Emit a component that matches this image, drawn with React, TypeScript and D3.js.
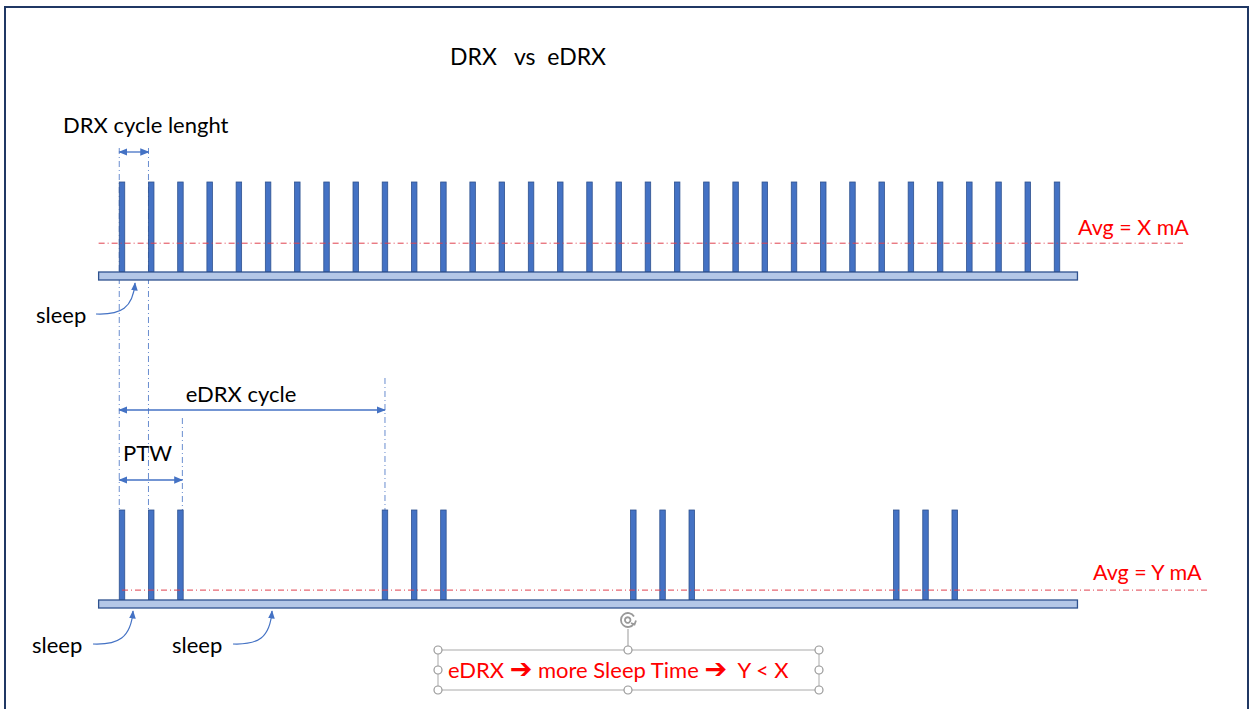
import { useEffect } from "react";
import * as d3 from "d3";

// pulse positions in DRX-cycle units (0 = first paging occasion)
const DRX_PULSES = d3.range(0, 33);
const EDRX_PULSES = [0, 1, 2, 9, 10, 11, 17.5, 18.5, 19.5, 26.5, 27.5, 28.5];
const AXIS_SPAN = [-0.8, 32.7];
const AVG_LEVELS = { drx: 0.32, edrx: 0.11 };
const AVG_LABELS = ["Avg = X mA", "Avg = Y mA"];
const MARKERS = { drxCycle: [0, 1], edrxCycle: [0, 9], ptw: [0, 2.1] };

const BLUE = "#4472c4";
const DARK = "#2f528f";
const RED = "#ff0000";
const FONT = "Lato, 'Open Sans', sans-serif";
const FS = 22;

export default function App() {
  useEffect(() => { document.body.style.margin = "0"; }, []);

  const W = 1253, H = 709;
  const x = d3.scaleLinear().domain([0, 32]).range([122, 1057]);
  const yTop = d3.scaleLinear().domain([0, 1]).range([272, 182]);
  const yBot = d3.scaleLinear().domain([0, 1]).range([600, 510]);
  const pw = 5.5;

  const lineStart = (v: number) => x(v) - pw / 2;

  const pulses = (list: number[], y: d3.ScaleLinear<number, number>) =>
    list.map((p, i) => (
      <rect key={i} x={x(p) - pw / 2} y={y(1)} width={pw} height={y(0) - y(1)}
        fill={BLUE} stroke={DARK} strokeWidth={0.8} />
    ));

  const base = (y: d3.ScaleLinear<number, number>) => (
    <rect x={x(AXIS_SPAN[0])} y={y(0)} width={x(AXIS_SPAN[1]) - x(AXIS_SPAN[0])} height={8}
      fill="#b4c7e7" stroke={DARK} strokeWidth={1.3} />
  );

  const sleepCurve = (x0: number, y0: number, x1: number, y1: number) =>
    `M${x0},${y0} C${x0 + 25},${y0 + 1} ${x1 - 2},${y0 - 6} ${x1},${y1}`;

  const handles: [number, number][] = [
    [438, 650], [628, 650], [819, 650], [438, 670], [819, 670], [438, 690], [628, 690], [819, 690],
  ];

  return (
    <svg width={W} height={H} style={{ display: "block" }} fontFamily={FONT}>
      <defs>
        <marker id="ah" viewBox="0 0 10 10" refX="9" refY="5" markerWidth="7" markerHeight="7" orient="auto-start-reverse">
          <path d="M0,1 L10,5 L0,9 z" fill={BLUE} />
        </marker>
      </defs>
      <rect x={0} y={0} width={W} height={H} fill="white" />
      <rect x={5} y={7} width={1243} height={710} fill="none" stroke="#203864" strokeWidth={2} />

      <text x={528} y={65} textAnchor="middle" fontSize={23} fill="#000" style={{ whiteSpace: "pre" }}>
        DRX   vs  eDRX
      </text>

      {/* dash-dot guides */}
      <g stroke={BLUE} strokeWidth={1} strokeDasharray="6 3 1 3" opacity={0.8}>
        <line x1={lineStart(MARKERS.drxCycle[0])} x2={lineStart(MARKERS.drxCycle[0])} y1={148} y2={yBot(1)} />
        <line x1={lineStart(MARKERS.drxCycle[1])} x2={lineStart(MARKERS.drxCycle[1])} y1={148} y2={yBot(1)} />
        <line x1={x(MARKERS.edrxCycle[1])} x2={x(MARKERS.edrxCycle[1])} y1={378} y2={yBot(1)} />
        <line x1={x(MARKERS.ptw[1]) - 1} x2={x(MARKERS.ptw[1]) - 1} y1={418} y2={yBot(1)} />
      </g>

      {/* top: DRX */}
      <text x={63} y={133} fontSize={FS} fill="#000">DRX cycle lenght</text>
      <line x1={lineStart(0)} x2={lineStart(1)} y1={152} y2={152} stroke={BLUE} strokeWidth={1.3}
        markerStart="url(#ah)" markerEnd="url(#ah)" />
      {pulses(DRX_PULSES, yTop)}
      {base(yTop)}
      <line x1={x(AXIS_SPAN[0])} x2={1183} y1={yTop(AVG_LEVELS.drx)} y2={yTop(AVG_LEVELS.drx)}
        stroke="#e0404e" strokeWidth={1} strokeDasharray="6 3 1 3" />
      <text x={1078} y={235} fontSize={21.5} fill={RED}>{AVG_LABELS[0]}</text>

      <text x={36} y={323} fontSize={FS} fill="#000">sleep</text>
      <path d={sleepCurve(96, 314, 135, 283)} fill="none" stroke={BLUE} strokeWidth={1.2} markerEnd="url(#ah)" />

      {/* eDRX annotations */}
      <text x={241} y={402} textAnchor="middle" fontSize={FS} fill="#000">eDRX cycle</text>
      <line x1={lineStart(0)} x2={x(MARKERS.edrxCycle[1])} y1={410} y2={410} stroke={BLUE} strokeWidth={1.3}
        markerStart="url(#ah)" markerEnd="url(#ah)" />
      <text x={123} y={461} fontSize={FS} fill="#000">PTW</text>
      <line x1={lineStart(0)} x2={x(MARKERS.ptw[1]) - 1} y1={480} y2={480} stroke={BLUE} strokeWidth={1.3}
        markerStart="url(#ah)" markerEnd="url(#ah)" />

      {/* bottom: eDRX */}
      {pulses(EDRX_PULSES, yBot)}
      {base(yBot)}
      <line x1={x(0)} x2={1208} y1={yBot(AVG_LEVELS.edrx)} y2={yBot(AVG_LEVELS.edrx)}
        stroke="#e0404e" strokeWidth={1} strokeDasharray="6 3 1 3" />
      <text x={1093} y={580} fontSize={21.5} fill={RED}>{AVG_LABELS[1]}</text>

      <text x={32} y={653} fontSize={FS} fill="#000">sleep</text>
      <path d={sleepCurve(93, 644, 133, 611)} fill="none" stroke={BLUE} strokeWidth={1.2} markerEnd="url(#ah)" />
      <text x={172} y={653} fontSize={FS} fill="#000">sleep</text>
      <path d={sleepCurve(233, 644, 272, 611)} fill="none" stroke={BLUE} strokeWidth={1.2} markerEnd="url(#ah)" />

      {/* selected text box */}
      <line x1={628} x2={628} y1={629} y2={650} stroke="#999" strokeWidth={1} />
      <g transform="translate(628,620)" fill="none" stroke="#999" strokeWidth={1.8}>
        <path d="M6,-3.5 A7,7 0 1,0 6,3.5" />
        <path d="M2.5,0 A2.8,2.8 0 1,0 2.5,0.1" />
        <path d="M3,3 L6.5,4.5 L8,0.5" />
      </g>
      <rect x={438} y={650} width={381} height={40} fill="white" stroke="#aaa" strokeWidth={1} />
      {handles.map(([hx, hy], i) => (
        <circle key={i} cx={hx} cy={hy} r={4} fill="white" stroke="#999" strokeWidth={1.2} />
      ))}
      <text x={448} y={678} fontSize={FS} fill={RED} style={{ whiteSpace: "pre" }}>
        eDRX <tspan fontFamily="'DejaVu Sans'" fontWeight="bold" fontSize={27}>➔</tspan> more Sleep Time <tspan fontFamily="'DejaVu Sans'" fontWeight="bold" fontSize={27}>➔</tspan>  Y &lt; X
      </text>
    </svg>
  );
}
